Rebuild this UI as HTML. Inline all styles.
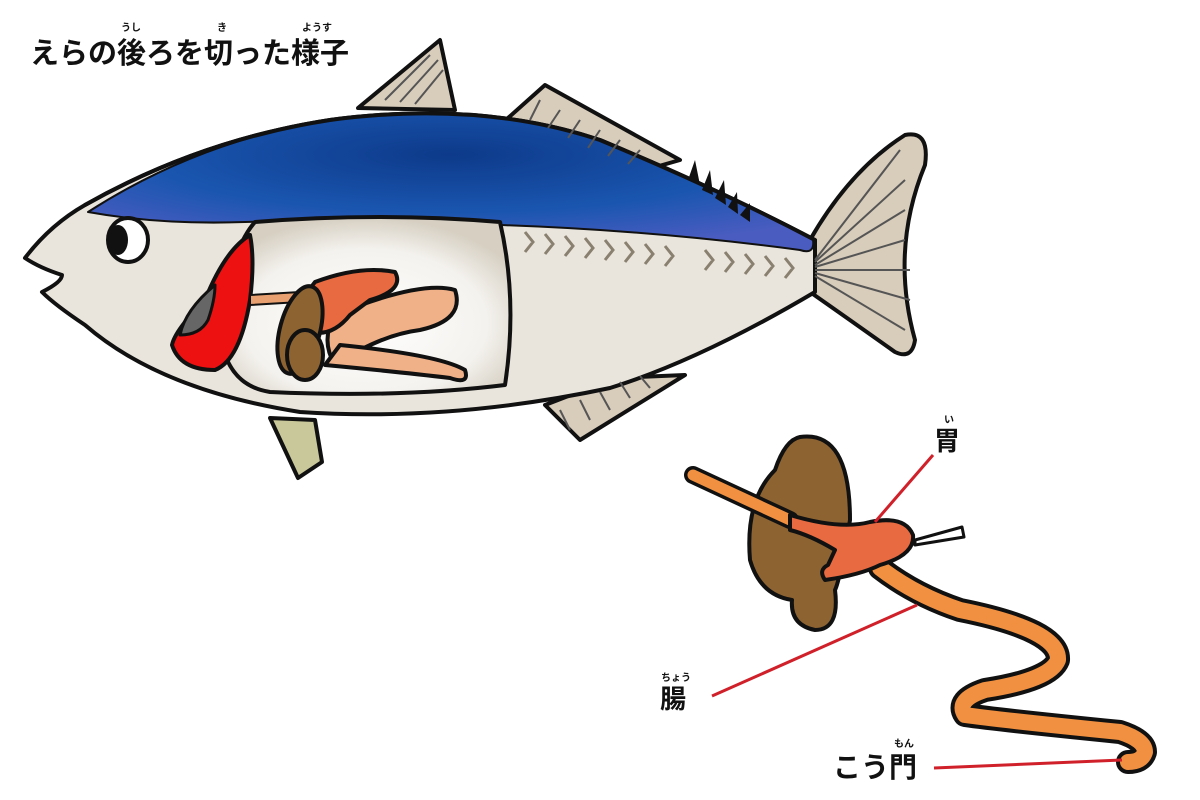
<!DOCTYPE html>
<html><head><meta charset="utf-8">
<style>
html,body{margin:0;padding:0;background:#fff;}
body{width:1200px;height:800px;overflow:hidden;position:relative;font-family:"Liberation Sans","Noto Sans CJK JP",sans-serif;}
.t{position:absolute;font-weight:bold;color:#111;white-space:nowrap;}
.r{position:absolute;font-weight:bold;font-size:10px;color:#111;white-space:nowrap;}
</style></head><body>
<svg width="1200" height="800" style="position:absolute;left:0;top:0">
<defs>
<radialGradient id="blue" cx="0.5" cy="0.3" r="0.7">
<stop offset="0" stop-color="#0d3a8a"/><stop offset="0.6" stop-color="#1a56b0"/><stop offset="1" stop-color="#4a5cc0"/>
</radialGradient>
<radialGradient id="win" cx="0.5" cy="0.6" r="0.6">
<stop offset="0" stop-color="#ffffff"/><stop offset="0.7" stop-color="#f4f2ee"/><stop offset="1" stop-color="#d6cfc2"/>
</radialGradient>
</defs>
<g stroke="#111" stroke-width="4" stroke-linejoin="round" stroke-linecap="round">
<path d="M358,108 L440,40 L455,110 Z" fill="#d8ccbb"/>
<path d="M508,118 L545,85 L680,160 L645,170 Z" fill="#d8ccbb"/>
<path d="M545,405 L580,440 L685,375 L615,378 Z" fill="#d8ccbb"/>
<path d="M270,418 L298,478 L322,462 L315,420 Z" fill="#c8c89a"/>
<path d="M668,345 Q680,350 676,362" fill="#d8c030" stroke-width="3"/>
<path d="M810,240 Q850,170 905,135 Q930,130 925,165 Q890,250 915,340 Q912,360 895,352 Q850,320 810,292 Z" fill="#d8ccbb"/>
<path d="M85,205 Q200,140 330,120 Q480,100 600,140 Q720,190 815,240 L815,292 Q700,360 610,388 Q450,422 300,412 Q160,390 85,325 Q55,305 42,292 Q62,282 62,275 Q40,268 25,258 Q50,225 85,205 Z" fill="#e9e5dd"/>
<path d="M88,212 Q200,140 330,120 Q480,100 600,140 Q720,190 813,240 Q815,255 800,250 Q650,230 500,225 Q380,218 245,222 Q160,225 88,212 Z" fill="url(#blue)" stroke-width="2"/>
<path d="M85,205 Q200,140 330,120 Q480,100 600,140 Q720,190 815,240" fill="none"/>
</g>
<g fill="#111">
<path d="M688,180 L695,160 L700,185Z"/><path d="M702,190 L710,170 L713,195Z"/><path d="M715,198 L724,180 L726,205Z"/><path d="M728,207 L737,192 L738,214Z"/><path d="M740,215 L750,203 L750,222Z"/>
</g>
<g stroke="#555" stroke-width="2" fill="none">
<path d="M385,100 L430,55 M400,102 L438,60 M415,104 L443,70"/>
<path d="M540,100 L530,120 M560,110 L548,128 M580,120 L568,138 M600,130 L588,148 M620,140 L608,156 M640,150 L628,164"/>
<path d="M570,430 L560,410 M590,420 L580,400 M610,410 L600,392 M630,398 L620,382 M650,388 L640,376"/>
<path d="M815,260 L900,150 M815,262 L905,180 M815,265 L905,210 M815,267 L905,240 M815,270 L910,270 M815,273 L910,300 M815,276 L905,330"/>
</g>
<g stroke="#8a8070" stroke-width="3" fill="none">
<path d="M525,232 l8,10 l-8,10 M545,234 l8,10 l-8,10 M565,236 l8,10 l-8,10 M585,238 l8,10 l-8,10 M605,240 l8,10 l-8,10 M625,242 l8,10 l-8,10 M645,244 l8,10 l-8,10 M665,246 l8,10 l-8,10 M705,250 l8,10 l-8,10 M725,252 l8,10 l-8,10 M745,254 l8,10 l-8,10 M765,256 l8,10 l-8,10 M785,258 l8,10 l-8,10"/>
</g>
<g stroke="#111" stroke-width="4" stroke-linejoin="round" stroke-linecap="round">
<ellipse cx="128" cy="240" rx="20" ry="22" fill="#fff"/>
<ellipse cx="118" cy="240" rx="10" ry="15" fill="#111" stroke="none"/>
<path d="M255,222 Q380,212 500,222 Q518,300 505,385 Q400,398 270,392 Q225,385 220,330 Q230,250 255,222 Z" fill="url(#win)"/>
<path d="M250,235 Q225,250 205,300 Q175,330 172,345 Q180,370 215,370 Q240,360 250,300 Q255,260 250,235 Z" fill="#ee1111"/>
<path d="M215,285 Q185,310 180,335 Q200,335 208,320 Q215,300 215,285 Z" fill="#666" stroke-width="3"/>
<path d="M250,295 L300,292 L300,302 L250,305 Z" fill="#e8a070" stroke-width="2"/>
<path d="M335,315 Q420,280 455,290 Q465,320 420,330 Q380,335 335,365 Q320,340 335,315 Z" fill="#f0b088"/>
<path d="M325,365 Q400,372 450,378 Q470,385 465,370 Q440,355 340,345 Z" fill="#f0b088"/>
<path d="M315,282 Q360,265 395,272 Q405,290 370,300 L350,315 Q330,340 305,330 Q300,300 315,282 Z" fill="#e86a40"/>
<ellipse cx="300" cy="330" rx="20" ry="45" fill="#8d6332" transform="rotate(15 300 330)"/>
<ellipse cx="305" cy="355" rx="18" ry="25" fill="#8d6332"/>
<path d="M800,437 Q850,430 850,520 Q840,580 835,590 Q840,630 815,630 Q790,625 792,600 Q760,595 750,560 Q745,500 775,470 Q785,440 800,437 Z" fill="#8d6332"/>
<path d="M693,475 L790,520" stroke="#111" stroke-width="18" fill="none"/>
<path d="M693,475 L790,520" stroke="#f09040" stroke-width="11" fill="none"/>
<path d="M915,540 L962,527 L964,537 L915,545 Z" fill="#fff" stroke-width="3"/>
<path d="M880,568 Q915,595 960,610 Q1060,630 1058,660 Q1050,680 985,690 Q955,700 965,715 Q1000,720 1120,732 Q1145,740 1145,752 Q1142,762 1128,762" stroke="#111" stroke-width="24" fill="none"/>
<path d="M880,568 Q915,595 960,610 Q1060,630 1058,660 Q1050,680 985,690 Q955,700 965,715 Q1000,720 1120,732 Q1145,740 1145,752 Q1142,762 1128,762" stroke="#f09040" stroke-width="16" fill="none"/>
<path d="M790,515 Q840,530 870,522 Q905,515 913,535 Q915,555 880,565 Q860,575 825,580 Q818,570 828,565 L835,550 Q810,535 790,530 Z" fill="#e86a40"/>
</g>
<g stroke="#d0202a" stroke-width="3">
<line x1="933" y1="455" x2="875" y2="522"/>
<line x1="917" y1="605" x2="712" y2="696"/>
<line x1="934" y1="768" x2="1122" y2="760"/>
</g>
</svg>
<div class="t" style="left:30px;top:30px;font-size:29px;">えらの後ろを切った様子</div>
<div class="r" style="left:121px;top:19px;">うし</div>
<div class="r" style="left:217px;top:19px;">き</div>
<div class="r" style="left:302px;top:19px;">ようす</div>
<div class="t" style="left:934px;top:421px;font-size:26px;">胃</div>
<div class="r" style="left:944px;top:411px;">い</div>
<div class="t" style="left:660px;top:679px;font-size:26px;">腸</div>
<div class="r" style="left:661px;top:669px;">ちょう</div>
<div class="t" style="left:833px;top:746px;font-size:28px;">こう門</div>
<div class="r" style="left:894px;top:735px;">もん</div>
</body></html>
